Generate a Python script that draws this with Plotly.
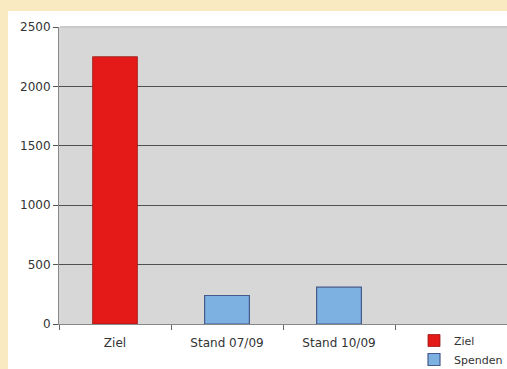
import plotly.graph_objects as go

categories = ["Ziel", "Stand 07/09", "Stand 10/09"]
ziel_x = ["Ziel"]
ziel_y = [2250]
spenden_x = ["Stand 07/09", "Stand 10/09"]
spenden_y = [240, 310]
y_ticks = [0, 500, 1000, 1500, 2000, 2500]

W, H = 507, 369
PL, PR, PT, PB = 59, 507, 27, 324  # plot area in pixels


def fx(x):
    return x / W


def fy(y):
    return (H - y) / H


fig = go.Figure()
fig.add_trace(go.Bar(
    name="Ziel", x=ziel_x, y=ziel_y, width=0.4,
    marker=dict(color="#e31a17", line=dict(color="#9a1a1a", width=0.8)),
))
fig.add_trace(go.Bar(
    name="Spenden", x=spenden_x, y=spenden_y, width=0.4,
    marker=dict(color="#7db1e2", line=dict(color="#465a8c", width=1.2)),
))

cream = "#f9eac2"
shapes = [
    dict(type="rect", xref="paper", yref="paper",
         x0=0, x1=fx(8), y0=0, y1=1,
         fillcolor=cream, line=dict(width=0), layer="below"),
    dict(type="rect", xref="paper", yref="paper",
         x0=0, x1=1, y0=fy(11), y1=1,
         fillcolor=cream, line=dict(width=0), layer="below"),
    dict(type="line", xref="paper", yref="paper",
         x0=fx(PL + 1), x1=1, y0=fy(PT), y1=fy(PT),
         line=dict(color="#c9c9c9", width=2), layer="above"),
]

fig.update_layout(
    width=W, height=H,
    margin=dict(l=0, r=0, t=0, b=0, autoexpand=False),
    paper_bgcolor="white",
    plot_bgcolor="#d7d7d7",
    barmode="overlay",
    shapes=shapes,
    font=dict(family="DejaVu Sans", color="#333333", size=12),
    showlegend=True,
    legend=dict(
        x=fx(414), y=fy(326), xanchor="left", yanchor="top",
        bgcolor="rgba(0,0,0,0)", font=dict(size=11, color="#333333"),
        itemwidth=30, tracegroupgap=0,
    ),
    xaxis=dict(
        domain=[fx(PL), fx(PR)],
        type="category", categoryorder="array", categoryarray=categories,
        range=[-0.5, 3.5], tickson="boundaries", ticks="outside", ticklen=5,
        tickcolor="#666666", showline=True, linecolor="#888888", linewidth=1,
        showgrid=False, tickfont=dict(size=12, color="#333333"),
        ticklabelstandoff=8,
    ),
    yaxis=dict(
        domain=[fy(PB), fy(PT)],
        range=[0, 2500], tickvals=y_ticks, ticks="outside", ticklen=5,
        tickcolor="#555555", showline=True, linecolor="#888888", linewidth=1,
        showgrid=True, gridcolor="#505050", gridwidth=1.3, zeroline=False,
        tickfont=dict(size=12, color="#333333"),
    ),
)

fig.write_html("out.html")
